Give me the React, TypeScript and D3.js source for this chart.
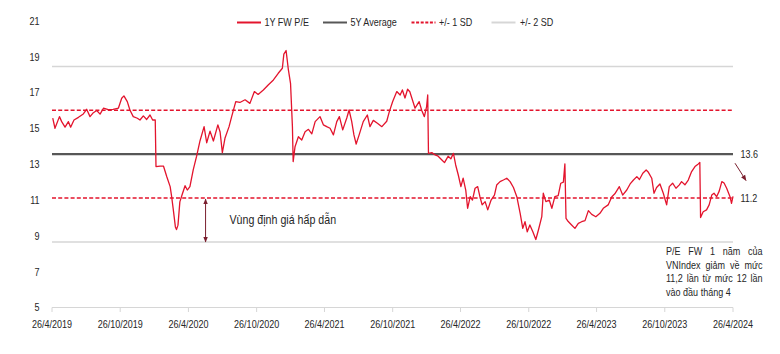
import { useEffect, useRef } from "react";
import * as d3 from "d3";

// 1Y forward P/E of VNIndex
const dates = [
  "2019-04-28", "2019-05-04", "2019-05-16", "2019-05-22", "2019-05-31", "2019-06-09", "2019-06-15", "2019-06-24",
  "2019-07-06", "2019-07-19", "2019-07-28", "2019-08-06", "2019-08-15", "2019-08-24", "2019-09-02", "2019-09-11",
  "2019-09-24", "2019-10-07", "2019-10-21", "2019-10-30", "2019-11-05", "2019-11-14", "2019-11-21", "2019-11-30",
  "2019-12-11", "2019-12-18", "2019-12-27", "2020-01-05", "2020-01-14", "2020-01-21", "2020-01-28", "2020-01-30",
  "2020-02-10", "2020-02-19", "2020-02-28", "2020-03-08", "2020-03-12", "2020-03-16", "2020-03-22", "2020-03-25",
  "2020-03-29", "2020-04-03", "2020-04-09", "2020-04-17", "2020-04-23", "2020-04-30", "2020-05-09", "2020-05-18",
  "2020-05-27", "2020-06-07", "2020-06-14", "2020-06-23", "2020-07-02", "2020-07-14", "2020-07-20", "2020-07-26",
  "2020-08-02", "2020-08-13", "2020-08-20", "2020-08-31", "2020-09-11", "2020-09-25", "2020-10-08", "2020-10-20",
  "2020-10-30", "2020-11-13", "2020-11-26", "2020-12-10", "2020-12-23", "2021-01-03", "2021-01-07", "2021-01-13",
  "2021-01-19", "2021-01-25", "2021-01-30", "2021-02-01", "2021-02-06", "2021-02-15", "2021-02-24", "2021-03-05",
  "2021-03-14", "2021-03-23", "2021-04-01", "2021-04-14", "2021-04-23", "2021-05-02", "2021-05-11", "2021-05-20",
  "2021-05-29", "2021-06-05", "2021-06-14", "2021-06-25", "2021-07-01", "2021-07-08", "2021-07-14", "2021-07-20",
  "2021-07-28", "2021-08-08", "2021-08-19", "2021-08-26", "2021-09-04", "2021-09-15", "2021-09-27", "2021-10-10",
  "2021-10-17", "2021-10-26", "2021-11-06", "2021-11-15", "2021-11-21", "2021-11-28", "2021-12-05", "2021-12-11",
  "2021-12-18", "2021-12-25", "2022-01-05", "2022-01-12", "2022-01-19", "2022-01-25", "2022-01-28", "2022-01-30",
  "2022-02-08", "2022-02-17", "2022-02-25", "2022-03-07", "2022-03-14", "2022-03-24", "2022-03-31", "2022-04-07",
  "2022-04-13", "2022-04-20", "2022-04-27", "2022-05-03", "2022-05-10", "2022-05-15", "2022-05-22", "2022-05-28",
  "2022-06-04", "2022-06-11", "2022-06-17", "2022-06-23", "2022-07-01", "2022-07-08", "2022-07-17", "2022-07-26",
  "2022-08-01", "2022-08-10", "2022-08-19", "2022-08-28", "2022-09-06", "2022-09-15", "2022-09-24", "2022-10-03",
  "2022-10-10", "2022-10-16", "2022-10-22", "2022-10-29", "2022-11-06", "2022-11-14", "2022-11-21", "2022-11-30",
  "2022-12-04", "2022-12-11", "2022-12-20", "2022-12-27", "2023-01-04", "2023-01-13", "2023-01-20", "2023-01-27",
  "2023-01-31", "2023-02-03", "2023-02-09", "2023-02-18", "2023-02-27", "2023-03-08", "2023-03-17", "2023-03-26",
  "2023-04-04", "2023-04-13", "2023-04-24", "2023-05-05", "2023-05-14", "2023-05-27", "2023-06-06", "2023-06-14",
  "2023-06-26", "2023-07-05", "2023-07-16", "2023-07-25", "2023-08-03", "2023-08-12", "2023-08-19", "2023-08-28",
  "2023-09-06", "2023-09-12", "2023-09-21", "2023-09-27", "2023-10-04", "2023-10-13", "2023-10-22", "2023-10-31",
  "2023-11-07", "2023-11-16", "2023-11-25", "2023-12-04", "2023-12-10", "2023-12-19", "2023-12-28", "2024-01-06",
  "2024-01-15", "2024-01-24", "2024-01-28", "2024-01-30", "2024-02-06", "2024-02-15", "2024-02-22", "2024-02-29",
  "2024-03-06", "2024-03-13", "2024-03-20", "2024-03-27", "2024-04-02", "2024-04-09", "2024-04-18", "2024-04-22",
  "2024-04-26",
];
const pe = [
  15.57, 15.01, 15.66, 15.38, 15.07, 15.38, 15.07, 15.47,
  15.62, 15.81, 16.07, 15.66, 15.88, 16.0, 15.8, 16.13,
  16.05, 16.07, 16.13, 16.69, 16.82, 16.5, 16.03, 15.66,
  15.57, 15.47, 15.7, 15.5, 15.75, 15.47, 15.47, 12.87,
  12.9, 12.9, 12.3, 11.75, 11.19, 10.54, 9.5, 9.35,
  9.6, 10.9, 11.3, 11.8, 11.56, 11.75, 12.7, 13.45,
  14.3, 15.1, 14.2, 14.85, 14.3, 15.2, 14.8, 13.65,
  14.45, 15.1, 15.66, 16.5, 16.45, 16.6, 16.4, 17.06,
  16.9, 17.15, 17.43, 17.71, 18.08, 18.36, 19.15, 19.35,
  18.3, 17.5, 15.1, 13.15, 13.98, 14.54, 14.35, 14.82,
  14.95, 14.7, 15.38, 15.66, 15.2, 15.1, 15.01, 14.64,
  15.38, 15.66, 14.92, 15.6, 16.03, 15.4, 14.64, 14.13,
  14.64, 15.38, 15.75, 15.1, 15.45, 15.29, 15.1, 15.4,
  15.94, 16.5, 17.06, 16.87, 17.15, 16.7, 17.19, 17.05,
  16.59, 16.13, 16.5, 16.0, 15.66, 16.22, 16.87, 13.61,
  13.65, 13.52, 13.45, 13.24, 13.09, 13.45, 13.3, 13.61,
  12.96, 12.4, 11.75, 12.22, 11.56, 10.54, 11.19, 11.0,
  11.66, 11.75, 11.19, 10.73, 10.91, 10.45, 11.0, 11.28,
  11.84, 12.03, 12.12, 12.22, 12.03, 11.7, 11.19, 10.26,
  9.42, 9.79, 9.23, 9.61, 9.23, 8.8, 9.33, 10.07,
  11.38, 10.91, 11.0, 10.54, 11.19, 11.25, 11.94, 12.0,
  13.02, 9.98, 9.8, 9.61, 9.42, 9.7, 9.79, 9.85,
  10.41, 10.2, 10.07, 10.26, 10.54, 10.73, 11.19, 11.35,
  11.75, 11.28, 11.56, 11.9, 12.12, 12.31, 12.15, 12.5,
  12.68, 12.55, 12.22, 11.38, 11.7, 11.9, 11.38, 10.73,
  11.75, 11.94, 11.66, 11.85, 12.03, 11.85, 12.12, 12.59,
  12.87, 13.02, 13.1, 10.02, 10.35, 10.45, 10.73, 11.28,
  11.38, 11.19, 11.5, 12.03, 11.95, 11.66, 11.19, 10.82,
  11.2,
];

const avg5y = 13.56;
const sd1 = [11.11, 16.01];
const sd2 = [8.66, 18.46];
const avgLabel = "13.6";
const lastLabel = "11.2";

const yTicks = [5, 7, 9, 11, 13, 15, 17, 19, 21];
const xTicks = [
  "2019-04-26", "2019-10-26", "2020-04-26", "2020-10-26", "2021-04-26",
  "2021-10-26", "2022-04-26", "2022-10-26", "2023-04-26", "2023-10-26", "2024-04-26",
];

const legendItems = [
  { label: "1Y FW P/E", kind: "pe" },
  { label: "5Y Average", kind: "avg" },
  { label: "+/- 1 SD", kind: "sd1" },
  { label: "+/- 2 SD", kind: "sd2" },
];

const zoneLabel = "Vùng định giá hấp dẫn";
const noteLines = ["P/E FW 1 năm của", "VNIndex giảm về mức", "11,2 lần từ mức 12 lần", "vào đầu tháng 4"];

const RED = "#e3142d";
const DARK = "#575757";
const LIGHT = "#d6d6d6";
const ARROW = "#7a1f2e";
const TEXT = "#262626";
const FONT = "'Liberation Sans', Arial, sans-serif";
const SX = 0.82; // narrow look

export default function App() {
  const ref = useRef<SVGSVGElement>(null);

  useEffect(() => {
    const svg = d3.select(ref.current);
    svg.selectAll("*").remove();
    svg.style("font-family", FONT);

    // condensed text, like Arial Narrow
    const label = (x: number, y: number, str: string | number, size = 11, anchor = "start") =>
      svg.append("text")
        .attr("transform", `translate(${x},${y}) scale(${SX},1)`)
        .attr("text-anchor", anchor)
        .attr("dominant-baseline", "central")
        .attr("font-size", size)
        .attr("fill", TEXT)
        .text(str);

    const parse = d3.timeParse("%Y-%m-%d");
    const series = dates.map((d, i) => ({ date: parse(d) as Date, value: pe[i] }));
    const tickDates = xTicks.map((d) => parse(d) as Date);

    const x = d3.scaleTime().domain([tickDates[0], tickDates[tickDates.length - 1]]).range([52, 733]);
    const y = d3.scaleLinear().domain([5, 21]).range([307.5, 21]);
    const [x0, x1] = x.range();

    const defs = svg.append("defs");
    defs.append("marker")
      .attr("id", "ah")
      .attr("viewBox", "0 0 10 10")
      .attr("refX", 9).attr("refY", 5)
      .attr("markerWidth", 6).attr("markerHeight", 6)
      .attr("orient", "auto-start-reverse")
      .append("path")
      .attr("d", "M0,1 L10,5 L0,9 Z")
      .attr("fill", ARROW);

    // +/- 2 SD
    sd2.forEach((v) => {
      svg.append("line")
        .attr("x1", x0).attr("x2", x1)
        .attr("y1", y(v)).attr("y2", y(v))
        .attr("stroke", LIGHT).attr("stroke-width", 1.6);
    });

    // 5Y average
    svg.append("line")
      .attr("x1", x0).attr("x2", x1)
      .attr("y1", y(avg5y)).attr("y2", y(avg5y))
      .attr("stroke", DARK).attr("stroke-width", 2.2);

    // +/- 1 SD
    sd1.forEach((v) => {
      svg.append("line")
        .attr("x1", x0).attr("x2", x1)
        .attr("y1", y(v)).attr("y2", y(v))
        .attr("stroke", RED).attr("stroke-width", 1.5)
        .attr("stroke-dasharray", "4,2.2");
    });

    // series
    const line = d3.line<{ date: Date; value: number }>()
      .x((d) => x(d.date))
      .y((d) => y(d.value));
    svg.append("path")
      .datum(series)
      .attr("d", line)
      .attr("fill", "none")
      .attr("stroke", RED)
      .attr("stroke-width", 1.3)
      .attr("stroke-linejoin", "round");

    // x axis
    svg.append("line")
      .attr("x1", x0).attr("x2", x1)
      .attr("y1", 307.5).attr("y2", 307.5)
      .attr("stroke", LIGHT).attr("stroke-width", 1);
    const fmt = d3.timeFormat("%-d/%-m/%Y");
    tickDates.forEach((d) => {
      svg.append("line")
        .attr("x1", x(d)).attr("x2", x(d))
        .attr("y1", 307.5).attr("y2", 312)
        .attr("stroke", LIGHT).attr("stroke-width", 1);
      label(x(d), 324, fmt(d), 11, "middle");
    });

    // y labels
    yTicks.forEach((t) => label(39.5, y(t), t, 11, "end"));

    // legend
    const lx = [237, 323, 411.5, 491.5];
    const ly = 22.5;
    legendItems.forEach((it, i) => {
      const seg = svg.append("line")
        .attr("x1", lx[i]).attr("x2", lx[i] + 24)
        .attr("y1", ly).attr("y2", ly);
      if (it.kind === "pe") seg.attr("stroke", RED).attr("stroke-width", 2);
      if (it.kind === "avg") seg.attr("stroke", DARK).attr("stroke-width", 2);
      if (it.kind === "sd1") seg.attr("stroke", RED).attr("stroke-width", 2).attr("stroke-dasharray", "3,1.6");
      if (it.kind === "sd2") seg.attr("stroke", LIGHT).attr("stroke-width", 2);
      label(lx[i] + (it.kind === "sd2" ? 28.5 : 27.5), ly, it.label, 11);
    });

    // right-hand labels
    const last = series[series.length - 1];
    label(740.5, y(avg5y), avgLabel, 11);
    label(740.5, y(sd1[0]), lastLabel, 11);

    // arrow from average to current level
    svg.append("line")
      .attr("x1", x1 + 2).attr("y1", y(avg5y) + 9)
      .attr("x2", x1 + 13).attr("y2", y(last.value) - 16)
      .attr("stroke", ARROW).attr("stroke-width", 1)
      .attr("marker-end", "url(#ah)");

    // attractive valuation zone arrow
    const zx = x(parse("2020-06-11") as Date);
    svg.append("line")
      .attr("x1", zx).attr("x2", zx)
      .attr("y1", y(sd1[0]) + 1).attr("y2", y(sd2[0]))
      .attr("stroke", ARROW).attr("stroke-width", 1)
      .attr("marker-start", "url(#ah)")
      .attr("marker-end", "url(#ah)");
    label(229.5, (y(sd1[0]) + y(sd2[0])) / 2, zoneLabel, 13);

    // justified note
    const nx0 = 666, nx1 = 762.5, ny0 = 250.5, lh = 13.7;
    const avail = (nx1 - nx0) / SX;
    noteLines.forEach((ln, i) => {
      const words = ln.split(" ");
      const t = label(nx0, ny0 + i * lh, "", 11);
      const spans = words.map((w) => t.append("tspan").text(w));
      const widths = spans.map((s) => (s.node() as SVGTSpanElement).getComputedTextLength());
      const total = d3.sum(widths);
      const isLast = i === noteLines.length - 1;
      const gap = isLast || words.length < 2 ? 3.1 : Math.max(2.5, (avail - total) / (words.length - 1));
      let cx = 0;
      spans.forEach((s, j) => {
        s.attr("x", cx);
        cx += widths[j] + gap;
      });
    });
  }, []);

  return (
    <svg
      ref={ref}
      width={780}
      height={354}
      style={{ position: "absolute", left: 0, top: 0, background: "#fff" }}
    />
  );
}
